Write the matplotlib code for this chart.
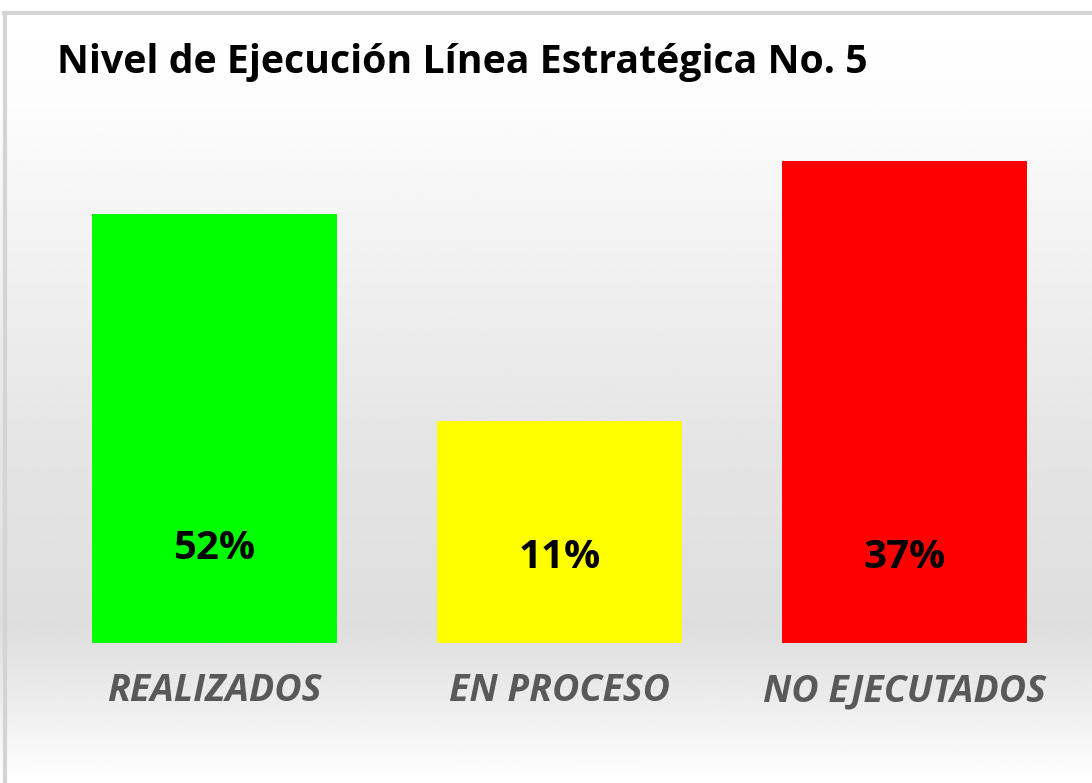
import matplotlib.pyplot as plt
import numpy as np
from matplotlib import font_manager

categorias = ["REALIZADOS", "EN PROCESO", "NO EJECUTADOS"]
valores = [8.9, 4.6, 10.0]          # bar heights as drawn
etiquetas = ["52%", "11%", "37%"]   # labels shown on the bars
colores = ["#00ff00", "#ffff00", "#ff0000"]
titulo = "Nivel de Ejecución Línea Estratégica No. 5"

names = {f.name for f in font_manager.fontManager.ttflist}
fam = ["Liberation Sans Narrow"] if "Liberation Sans Narrow" in names else []
fam = fam + ["Open Sans", "DejaVu Sans"]
plt.rcParams['font.family'] = fam

fig = plt.figure(figsize=(10.92, 7.83), dpi=100)

# background gradient (white -> light grey -> white)
bg = fig.add_axes([0, 0, 1, 1])
yy = np.linspace(0, 1, 400)  # 0 = top
stops_y = [0.0, 0.13, 0.30, 0.55, 0.80, 0.90, 1.0]
stops_v = [1.0, 0.99, 0.95, 0.90, 0.87, 0.93, 1.0]
g = np.interp(yy, stops_y, stops_v)
img = np.repeat(g[:, None], 2, axis=1)
bg.imshow(img, cmap="gray", vmin=0, vmax=1, aspect="auto", extent=[0, 1, 0, 1])
bg.set_xlim(0, 1)
bg.set_ylim(0, 1)
bg.axis("off")
# frame (top and left edges of the chart area)
bg.plot([0.004, 1], [0.983, 0.983], color="#d4d4d4", lw=3)
bg.plot([0.005, 0.005], [0, 0.983], color="#d4d4d4", lw=3)

W, H = 1092, 783
ax = fig.add_axes([7.5 / W, (H - 643) / H, 1069.5 / W, (643 - 130) / H])
ax.patch.set_alpha(0)
x = np.arange(len(categorias))
ax.bar(x, valores, width=0.71, color=colores)
ax.set_xlim(-0.6, 2.5)
ax.set_ylim(0, (643 - 130) / 48.2)
for s in ax.spines.values():
    s.set_visible(False)
ax.set_yticks([])
ax.set_xticks([])

label_y = [1.97, 1.78, 1.78]
for xi, ly, t in zip(x, label_y, etiquetas):
    ax.text(xi, ly, t, ha="center", va="center", fontsize=29,
            fontweight="bold", color="black")

for xi, c in zip(x, categorias):
    ax.text(xi, -1.0, c, ha="center", va="center", fontsize=27,
            fontweight="bold", fontstyle="italic", color="#595959")

fig.text(57 / W, 1 - 62 / H, titulo, ha="left", va="center", fontsize=28.3,
         fontweight="bold", color="black")

fig.savefig("out.png", dpi=100)
